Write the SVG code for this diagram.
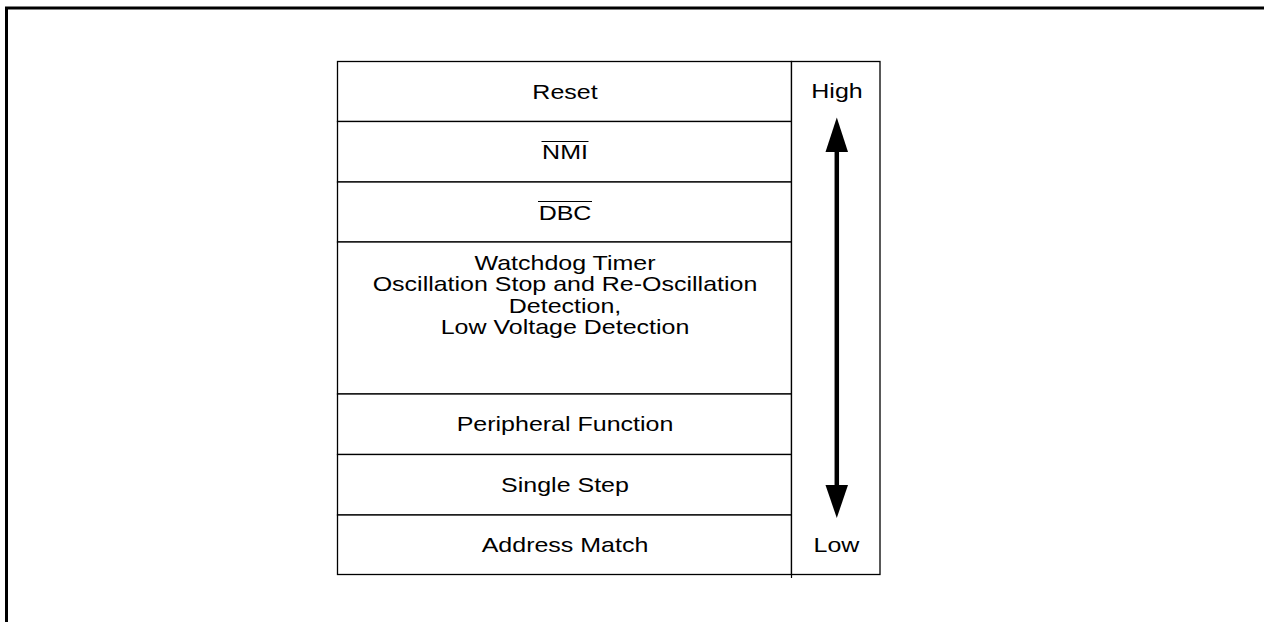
<svg xmlns="http://www.w3.org/2000/svg" width="1264" height="622" viewBox="0 0 1264 622">
<defs>
<style>
.t{font-family:"Liberation Sans",Arial,sans-serif;font-size:21px;fill:#000;text-anchor:middle}
.cell{fill:#fff;stroke:#000;stroke-width:1.3}
.frame{fill:none;stroke:#000;stroke-width:3}
.bar{stroke:#000;stroke-width:1.2}
</style>
</defs>
<rect width="1264" height="622" fill="#fff"/>
<path class="frame" d="M6.5,622 V8 H1264"/>
<g id="reset"><rect class="cell" x="337.5" y="61.5" width="454" height="60"/><text class="t" transform="translate(565 98.5) scale(1.19 1)">Reset</text></g>
<g id="nmi"><rect class="cell" x="337.5" y="121.5" width="454" height="60.5"/><text class="t" transform="translate(565 159) scale(1.19 1)">NMI</text><line class="bar" x1="541.5" y1="141.5" x2="588.5" y2="141.5"/></g>
<g id="dbc"><rect class="cell" x="337.5" y="182" width="454" height="60"/><text class="t" transform="translate(565 219.5) scale(1.19 1)">DBC</text><line class="bar" x1="538" y1="201.5" x2="592" y2="201.5"/></g>
<g id="wdt"><rect class="cell" x="337.5" y="242" width="454" height="152"/>
<text class="t" transform="translate(565 269.5) scale(1.19 1)">Watchdog Timer</text>
<text class="t" transform="translate(565 291) scale(1.19 1)">Oscillation Stop and Re-Oscillation</text>
<text class="t" transform="translate(565 312.5) scale(1.19 1)">Detection,</text>
<text class="t" transform="translate(565 334) scale(1.19 1)">Low Voltage Detection</text></g>
<g id="periph"><rect class="cell" x="337.5" y="394" width="454" height="60.5"/><text class="t" transform="translate(565 431) scale(1.19 1)">Peripheral Function</text></g>
<g id="step"><rect class="cell" x="337.5" y="454.5" width="454" height="60.5"/><text class="t" transform="translate(565 491.5) scale(1.19 1)">Single Step</text></g>
<g id="addr"><rect class="cell" x="337.5" y="515" width="454" height="59.5"/><text class="t" transform="translate(565 552) scale(1.19 1)">Address Match</text></g>
<g id="prio"><rect class="cell" x="791.5" y="61.5" width="88.5" height="513"/>
<line class="bar" x1="791.5" y1="574" x2="791.5" y2="578"/>
<text class="t" transform="translate(837 98) scale(1.19 1)">High</text>
<text class="t" transform="translate(836.5 552) scale(1.19 1)">Low</text></g>
<g id="connectors">
<line x1="836.8" y1="145" x2="836.8" y2="490" stroke="#000" stroke-width="4.5"/>
<polygon points="836.8,117.5 825.5,152 848,152" fill="#000"/>
<polygon points="836.8,518 825.5,485 848,485" fill="#000"/>
</g>
</svg>
